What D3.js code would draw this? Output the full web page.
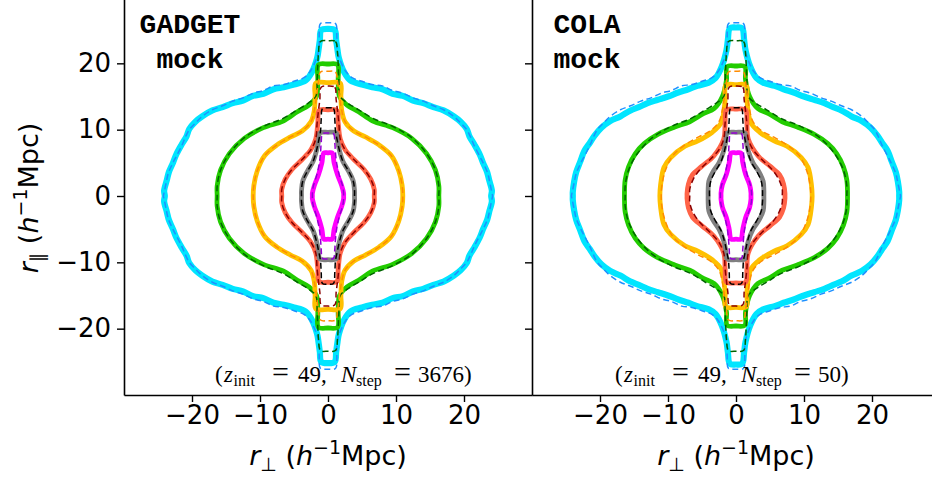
<!DOCTYPE html>
<html><head><meta charset="utf-8">
<script src="https://cdn.jsdelivr.net/npm/d3@7"></script>
<style>body{margin:0;background:#fff}svg{display:block}</style>
</head><body>
<svg id="c" width="932" height="480"></svg>
<script>
// ---------- data (one quadrant, r_perp >= 0, r_par >= 0; mirrored) ----------
const xTicks = [-20, -10, 0, 10, 20];
const yTicks = [-20, -10, 0, 10, 20];
const panels = ["GADGET", "COLA"];
const nSteps = ["3676", "50"];

// GADGET mock (solid)
const magentaG = [[0,6.5],[0.6,6.5],[0.9,5],[1.4,3.2],[2.0,1.6],[2.3,0.4],[2.3,0]];
const grayG    = [[0,9.6],[1.2,9.5],[1.4,8.2],[1.7,6.8],[2.2,5.2],[3.0,3.8],[3.7,2.3],[3.9,0.8],[3.9,0]];
const tomatoG  = [[0,13],[1.3,12.9],[1.5,11],[1.8,8.6],[2.5,7],[3.8,5.5],[5.3,4],[6.3,2.5],[6.8,1],[6.8,0]];
const orangeG  = [[0,17.1],[1.8,17],[1.9,15],[2.0,13],[2.5,11.2],[3.8,9.8],[5.5,8.9],[7.5,7.7],[9.3,6.1],[10.4,3.8],[10.9,1.6],[11,0]];
const greenG   = [[0,19.9],[1.4,19.8],[1.5,17.5],[1.7,15],[2.8,13.7],[4.5,12.7],[6.6,11.3],[9.5,10.3],[12.3,8.7],[14.5,6.4],[15.8,3.9],[16.3,1.5],[16.3,0]];
const cyanG    = [[0,25.2],[1.0,25],[1.2,23.5],[1.4,22],[1.6,20.8],[2.4,18.6],[3.3,17.4],[5,16.8],[6.5,16.4],[8,16.1],[9.5,15.4],[11,15.1],[12.5,14.4],[14,14],[15.5,13.4],[17,12.9],[18.5,12],[19.5,11.2],[20.4,10.1],[20.8,9],[21.5,7.8],[22.3,6.3],[22.8,5],[23.4,3.6],[23.7,2.4],[24.1,0.8],[24,0]];

// COLA mock (solid)
const magentaC = [[0,6.5],[0.7,6.5],[1.0,5],[1.4,3.3],[2.0,1.7],[2.2,0.5],[2.2,0]];
const grayC    = [[0,9.6],[1.3,9.5],[1.5,8.2],[1.8,6.8],[2.5,5],[3.4,3.6],[4.0,2.2],[4.1,0.8],[4.1,0]];
const tomatoC  = [[0,13.1],[1.4,13],[1.6,11],[1.8,8.6],[3.3,6],[5,4.5],[6.4,3.2],[7,1.8],[7.2,0.4],[7.2,0]];
const orangeC  = [[0,16.8],[1.5,16.7],[1.6,14.5],[2.2,11],[3.5,9.6],[5.6,8.3],[7.5,7.5],[9.6,5.8],[10.6,4.3],[11.1,1.6],[11.2,0]];
const greenC   = [[0,19.6],[1.3,19.5],[1.4,17.5],[2.0,15],[3.2,13.2],[4.8,12.4],[6.8,11.2],[9,10.4],[11.5,9.3],[13.5,7.9],[14.8,6.4],[15.8,4.4],[16.3,2.4],[16.4,0.5],[16.4,0]];
const cyanC    = [[0,25.4],[0.9,25.3],[1.2,23.5],[1.4,22],[2.1,19.5],[3,17.8],[4,17.1],[5.7,16.6],[7,16.1],[8.5,15.6],[10,15],[11.5,14.5],[13,14],[14.3,13.4],[15.5,12.9],[17,12],[18.5,11.3],[19.8,10.3],[20.8,9.1],[21.5,8],[22.3,6.8],[22.9,5.2],[23.5,3.6],[23.8,2.2],[24,0.6],[24,0]];

// model (dashed)
const violetD = [[0,9.5],[0.8,9.4],[1.0,8],[1.1,6.5],[1.3,4.8],[1.7,3],[2.2,1.3],[2.3,0]];
const blackD  = [[0,13.3],[0.8,13.2],[1.0,11.5],[1.1,9.8],[1.4,8.2],[1.7,6.8],[2.2,5.2],[3.0,3.8],[3.7,2.3],[3.9,0.8],[3.9,0]];
const redD    = [[0,16.6],[1.0,16.4],[1.2,14.5],[1.4,12.9],[1.6,11],[1.8,8.6],[2.5,7],[3.8,5.5],[5.3,4],[6.3,2.5],[6.8,1],[6.8,0]];
const orangeD = [[0,18.8],[1.1,18.7],[1.4,17.2],[1.7,15],[2.0,13],[2.5,11.2],[3.8,9.8],[5.5,8.9],[7.5,7.7],[9.3,6.1],[10.4,3.8],[10.9,1.6],[11,0]];
const greenD  = [[0,23.4],[1.1,23.3],[1.4,21.5],[1.5,19.8],[1.6,17.5],[1.8,15],[2.9,14],[4.5,13],[6.6,11.7],[9.5,10.5],[12.3,8.8],[14.5,6.4],[15.8,3.9],[16.3,1.5],[16.3,0]];
const blueD   = [[0,26.1],[1.1,26],[1.3,24],[1.3,22.5],[1.6,21],[2.6,18.8],[3.6,17.8],[5,17.3],[6.5,16.8],[8,16.6],[9.5,15.9],[11,15.5],[12.5,14.8],[14,14.3],[15.5,13.6],[17,13],[18.5,12],[19.5,11],[20.4,10],[21,8.8],[21.5,7.6],[22.3,6],[22.9,4.8],[23.5,3.4],[23.8,2],[24.1,0.5],[24.2,0]];

const solidColors  = ["#00e5ff", "#22cc00", "#ffc000", "#ff6347", "#808080", "#ff00ff"];
const dashedColors = ["#1e90ff", "#006400", "#ff8c00", "#8b0000", "#000000", "#9400d3"];
const solidG = [cyanG, greenG, orangeG, tomatoG, grayG, magentaG];
const solidC = [cyanC, greenC, orangeC, tomatoC, grayC, magentaC];
const dashed = [blueD, greenD, orangeD, redD, blackD, violetD];

// ---------- drawing ----------
const svg = d3.select("#c");
const y = d3.scaleLinear().domain([-30, 30]).range([395, -3]);
const xs = [d3.scaleLinear().domain([-30, 30]).range([124, 532]),
            d3.scaleLinear().domain([-30, 30]).range([532, 940])];

function ring(q) {
  const a = q.map(([u, v]) => [u, v]);
  const q4 = q.slice().reverse().map(([u, v]) => [u, -v]).slice(1);
  const q3 = q.map(([u, v]) => [-u, -v]).slice(1);
  const q2 = q.slice().reverse().map(([u, v]) => [-u, v]).slice(1, -1);
  return a.concat(q4, q3, q2);
}

const fmt = d3.format("d");
const tickFont = "DejaVu Sans, sans-serif";

xs.forEach((x, i) => {
  const [x0, x1] = x.range();
  const clipId = "clip" + i;
  svg.append("clipPath").attr("id", clipId).append("rect")
    .attr("x", x0).attr("y", -3).attr("width", x1 - x0).attr("height", 398);
  const g = svg.append("g").attr("clip-path", `url(#${clipId})`);
  const line = d3.line().x(d => x(d[0])).y(d => y(d[1]))
    .curve(d3.curveCatmullRomClosed.alpha(0.5));
  const solids = i === 0 ? solidG : solidC;
  solids.forEach((q, k) => {
    g.append("path").attr("d", line(ring(q))).attr("fill", "none")
      .attr("stroke", solidColors[k]).attr("stroke-width", k === 0 ? 6.2 : 4.8)
      .attr("stroke-linejoin", "round");
  });
  dashed.forEach((q, k) => {
    g.append("path").attr("d", line(ring(q))).attr("fill", "none")
      .attr("stroke", dashedColors[k]).attr("stroke-width", 1.5)
      .attr("stroke-dasharray", "6,3.5");
  });

  // axes
  const ax = svg.append("g").attr("transform", "translate(0,395)")
    .call(d3.axisBottom(x).tickValues(xTicks).tickFormat(fmt).tickSize(7).tickSizeOuter(0).tickPadding(4));
  const ay = svg.append("g").attr("transform", `translate(${x0},0)`)
    .call(d3.axisLeft(y).tickValues(yTicks).tickFormat(i === 0 ? fmt : () => "").tickSize(7).tickSizeOuter(0).tickPadding(6));
  [ax, ay].forEach(a => {
    a.select(".domain").attr("stroke", "#000").attr("stroke-width", 1.6);
    a.selectAll(".tick line").attr("stroke", "#000").attr("stroke-width", 1.4);
    a.selectAll(".tick text").attr("fill", "#000")
      .style("font-family", tickFont).style("font-size", "26px");
  });

  // x label
  const cx = x(0);
  const xl = svg.append("text").attr("x", cx).attr("y", 465).attr("text-anchor", "middle")
    .style("font-family", tickFont).style("font-size", "27px").attr("fill", "#000");
  xl.append("tspan").style("font-style", "italic").text("r");
  xl.append("tspan").attr("dy", 6).style("font-size", "19px").text("\u22a5");
  xl.append("tspan").attr("dy", -6).text(" (");
  xl.append("tspan").style("font-style", "italic").text("h");
  xl.append("tspan").attr("dy", -11).style("font-size", "19px").text("\u22121");
  xl.append("tspan").attr("dy", 11).text("Mpc)");

  // panel title
  const tx = i === 0 ? 190 : 587;
  const tt = svg.append("text").attr("text-anchor", "middle")
    .style("font-family", "'Courier New', 'Liberation Mono', monospace")
    .style("font-weight", "bold").style("font-size", "28px").attr("fill", "#000");
  tt.append("tspan").attr("x", tx).attr("y", 33).text(panels[i]);
  tt.append("tspan").attr("x", tx).attr("y", 68).text("mock");

  // annotation
  const ax0 = i === 0 ? 215 : 615;
  const base = 382;
  const an = svg.append("text").style("font-family", "'Liberation Serif', serif")
    .style("font-size", "23px").attr("fill", "#000");
  const parts = [
    ["(", 0, 0, false, 23], ["z", 9, 0, true, 23], ["init", 18.5, 4, false, 16],
    ["=", 57, 0, false, 30], ["49,", 83, 0, false, 23], ["N", 126, 0, true, 23],
    ["step", 141, 4, false, 16], ["=", 179, 0, false, 30], [nSteps[i] + ")", 203, 0, false, 23]
  ];
  parts.forEach(([t, dx, dy, it, fs]) => {
    an.append("tspan").attr("x", ax0 + dx).attr("y", base + dy)
      .style("font-style", it ? "italic" : "normal").style("font-size", fs + "px").text(t);
  });
});

// y label
const yl = svg.append("text").attr("transform", "translate(38,198) rotate(-90)")
  .attr("text-anchor", "middle").style("font-family", tickFont).style("font-size", "27px").attr("fill", "#000");
yl.append("tspan").style("font-style", "italic").text("r");
yl.append("tspan").attr("dy", 6).style("font-size", "19px").text("\u2225");
yl.append("tspan").attr("dy", -6).text(" (");
yl.append("tspan").style("font-style", "italic").text("h");
yl.append("tspan").attr("dy", -11).style("font-size", "19px").text("\u22121");
yl.append("tspan").attr("dy", 11).text("Mpc)");
</script>
</body></html>
